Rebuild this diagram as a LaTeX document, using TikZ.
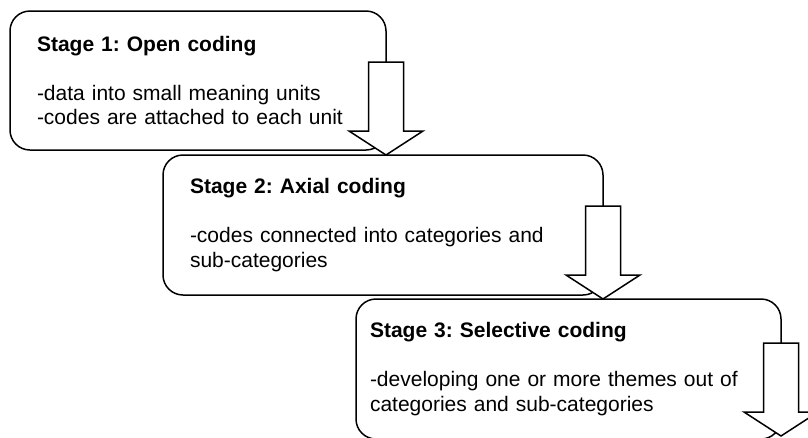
\documentclass[tikz,border=0pt]{standalone}
\usepackage{fontspec}
\setmainfont{Liberation Sans}
\usepackage{tikz}
\usetikzlibrary{calc}
\frenchspacing
\tikzstyle{stagebox} = [draw, line width=1.5pt, rounded corners=20pt, fill=white, align=left, inner xsep=27pt, inner ysep=0pt, outer sep=0pt, anchor=north west, font=\fontsize{21}{24.5}\selectfont]
\tikzstyle{blockarrow} = [draw, line width=1.5pt, fill=white, line join=miter]

% block arrow hanging from the right side of #1, tip on #2
\newcommand{\stagearrow}[2]{%
  \draw[blockarrow] let \p1 = (#1.east), \p2 = (#2) in
    (\x1-17.5pt,\y2+93pt) -- (\x1+17.5pt,\y2+93pt) -- (\x1+17.5pt,\y2+24pt)
    -- (\x1+37pt,\y2+24pt) -- (\x1,\y2) -- (\x1-37pt,\y2+24pt)
    -- (\x1-17.5pt,\y2+24pt) -- cycle;}

\begin{document}
\begin{tikzpicture}[x=1pt,y=-1pt]
    \useasboundingbox (0,0) rectangle (808,437);
    \clip (0,0) rectangle (808,437);
    \node[stagebox, text width=322pt, minimum height=139pt] (stage1) at (10,11)
      {\textbf{Stage 1: Open coding}\\[24.5pt]-data into small meaning units\\-codes are attached to each unit};
    \node[stagebox, text width=386pt, minimum height=140pt] (stage2) at (163,155)
      {\textbf{Stage 2: Axial coding}\\[24.5pt]-codes connected into categories and\\sub-categories};
    \node[stagebox, inner xsep=14pt, text width=397pt, minimum height=140pt] (stage3) at (356,299)
      {\textbf{Stage 3: Selective coding}\\[24.5pt]-developing one or more themes out of\\categories and sub-categories};
    \coordinate (end) at (781,436);
    \stagearrow{stage1}{stage2.north}
    \stagearrow{stage2}{stage3.north}
    \stagearrow{stage3}{end}
\end{tikzpicture}
\end{document}
